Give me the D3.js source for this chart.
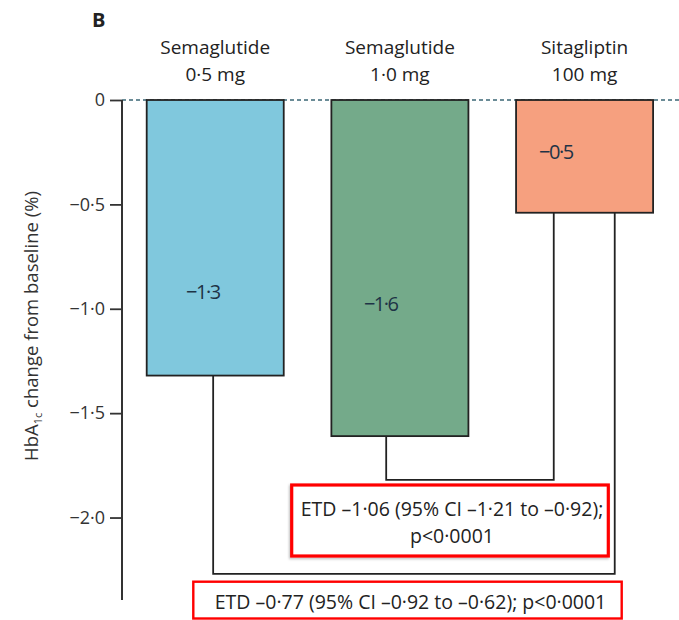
<!DOCTYPE html>
<html>
<head>
<meta charset="utf-8">
<script src="https://cdn.jsdelivr.net/npm/d3@7"></script>
<style>
  html, body { margin: 0; padding: 0; background: #fff; }
  svg { display: block; font-family: "Open Sans", "Noto Sans", sans-serif; }
</style>
</head>
<body>
<svg id="chart" width="679" height="620"></svg>
<script>
// Treatment groups (two-line headers)
const groupName = ["Semaglutide", "Semaglutide", "Sitagliptin"];
const groupDose = ["0·5 mg", "1·0 mg", "100 mg"];
// Mean change in HbA1c from baseline (%)
const hba1cChange = [-1.32, -1.61, -0.54];
const barColors = ["#80c8dd", "#74aa8a", "#f6a07f"];
// Y axis ticks
const yTicks = [0, -0.5, -1.0, -1.5, -2.0];
// Pairwise comparisons: estimated treatment differences
const compareFrom = [1, 0];
const compareTo = [2, 2];
const compareText = [
  ["ETD –1·06 (95% CI –1·21 to –0·92);", "p<0·0001"],
  ["ETD –0·77 (95% CI –0·92 to –0·62); p<0·0001"]
];

const svg = d3.select("#chart");
const W = 679, H = 620;

// Lancet style numbers: en dash minus, middle-dot decimal
const fmt = v => d3.format(".1f")(v).replace("-", "–").replace(".", "·");
const fmtTick = v => v === 0 ? "0" : fmt(v);

const x = d3.scaleBand()
  .domain(d3.range(hba1cChange.length))
  .range([146.7, 653.1])
  .paddingInner(0.258)
  .paddingOuter(0);

const y = d3.scaleLinear().domain([0, -2.395]).range([100, 600]);

const axisX = 122;

// Panel letter
svg.append("text")
  .attr("x", 92).attr("y", 27)
  .attr("font-size", 20).attr("font-weight", "bold").attr("fill", "#222")
  .text("B");

// Zero reference line (dashed)
svg.append("line")
  .attr("x1", axisX).attr("x2", W)
  .attr("y1", y(0)).attr("y2", y(0))
  .attr("stroke", "#3b6775").attr("stroke-width", 1.6)
  .attr("stroke-dasharray", "4,3");

// Y axis
const yAxis = d3.axisLeft(y)
  .tickValues(yTicks)
  .tickFormat(fmtTick)
  .tickSize(12)
  .tickPadding(5);

const gy = svg.append("g")
  .attr("transform", `translate(${axisX},0)`)
  .call(yAxis);
gy.select(".domain").remove();
gy.selectAll(".tick line").attr("stroke", "#333").attr("stroke-width", 1.8);
gy.selectAll(".tick text")
  .attr("font-family", "'Open Sans', sans-serif")
  .attr("font-size", 18).attr("fill", "#333");
svg.append("line")
  .attr("x1", axisX).attr("x2", axisX)
  .attr("y1", y(0)).attr("y2", y.range()[1])
  .attr("stroke", "#333").attr("stroke-width", 2);

// Y axis title
const yTitle = svg.append("text")
  .attr("transform", `translate(38,${326}) rotate(-90)`)
  .attr("text-anchor", "middle")
  .attr("font-size", 18.5).attr("fill", "#333");
yTitle.append("tspan").text("HbA");
yTitle.append("tspan").attr("font-size", 11).attr("dy", 4).text("1c");
yTitle.append("tspan").attr("dy", -4).text(" change from baseline (%)");

// Comparison brackets (drawn before boxes and bars)
const fromFrac = [0.40, 0.485];
const toFrac = [0.275, 0.72];
const bracketLevel = [-1.82, -2.27];
compareFrom.forEach((f, i) => {
  const t = compareTo[i];
  const x1 = x(f) + x.bandwidth() * fromFrac[i];
  const x2 = x(t) + x.bandwidth() * toFrac[i];
  const yl = y(bracketLevel[i]);
  svg.append("path")
    .attr("d", d3.line()([[x1, y(hba1cChange[f])], [x1, yl], [x2, yl], [x2, y(hba1cChange[t])]]))
    .attr("fill", "none").attr("stroke", "#222").attr("stroke-width", 1.8);
});

// Bars
svg.append("g").selectAll("rect")
  .data(hba1cChange)
  .join("rect")
  .attr("x", (d, i) => x(i))
  .attr("y", y(0))
  .attr("width", x.bandwidth())
  .attr("height", d => y(d) - y(0))
  .attr("fill", (d, i) => barColors[i])
  .attr("stroke", "#222").attr("stroke-width", 1.8);

// Value labels inside bars
const labelFrac = [0.41, 0.36, 0.29];
const labelLevel = [-0.92, -0.975, -0.25];
svg.append("g").selectAll("text")
  .data(hba1cChange)
  .join("text")
  .attr("x", (d, i) => x(i) + x.bandwidth() * labelFrac[i])
  .attr("y", (d, i) => y(labelLevel[i]))
  .attr("dy", "0.35em")
  .attr("text-anchor", "middle")
  .attr("font-size", 20).attr("letter-spacing", -1.5).attr("fill", "#1e3346")
  .text(d => fmt(d));

// Group headers
const headers = svg.append("g").selectAll("text")
  .data(groupName)
  .join("text")
  .attr("x", (d, i) => x(i) + x.bandwidth() / 2)
  .attr("text-anchor", "middle")
  .attr("font-size", 19).attr("fill", "#222");
headers.append("tspan").attr("y", 54).text(d => d);
headers.append("tspan")
  .attr("x", (d, i) => x(i) + x.bandwidth() / 2)
  .attr("y", 81).text((d, i) => groupDose[i]);

// ETD annotation boxes
const defs = svg.append("defs");
defs.append("filter").attr("id", "soft")
  .attr("x", "-5%").attr("y", "-20%").attr("width", "110%").attr("height", "140%")
  .append("feDropShadow")
  .attr("dx", -1).attr("dy", 1.5).attr("stdDeviation", 1.2)
  .attr("flood-color", "#000").attr("flood-opacity", 0.25);

const boxes = [
  { x0: 291.7, x1: 608.3, y0: 485, y1: 556, shadow: true },
  { x0: 193.3, x1: 621.7, y0: 581.7, y1: 618.5, shadow: false }
];
compareText.forEach((lines, i) => {
  const b = boxes[i];
  svg.append("rect")
    .attr("x", b.x0).attr("y", b.y0)
    .attr("width", b.x1 - b.x0).attr("height", b.y1 - b.y0)
    .attr("fill", "#fff").attr("stroke", "#ff0000")
    .attr("stroke-width", i === 0 ? 3.2 : 2.4)
    .attr("filter", b.shadow ? "url(#soft)" : null);
  const cx = (b.x0 + b.x1) / 2;
  const cy = (b.y0 + b.y1) / 2;
  const lh = 27;
  const t = svg.append("text")
    .attr("text-anchor", "middle")
    .attr("font-size", 19.5).attr("fill", "#222");
  lines.forEach((ln, k) => {
    t.append("tspan")
      .attr("x", cx + (i === 0 ? 2 : 3))
      .attr("y", cy + 2 + (k - (lines.length - 1) / 2) * lh)
      .attr("dy", "0.35em")
      .text(ln);
  });
});
</script>
</body>
</html>
